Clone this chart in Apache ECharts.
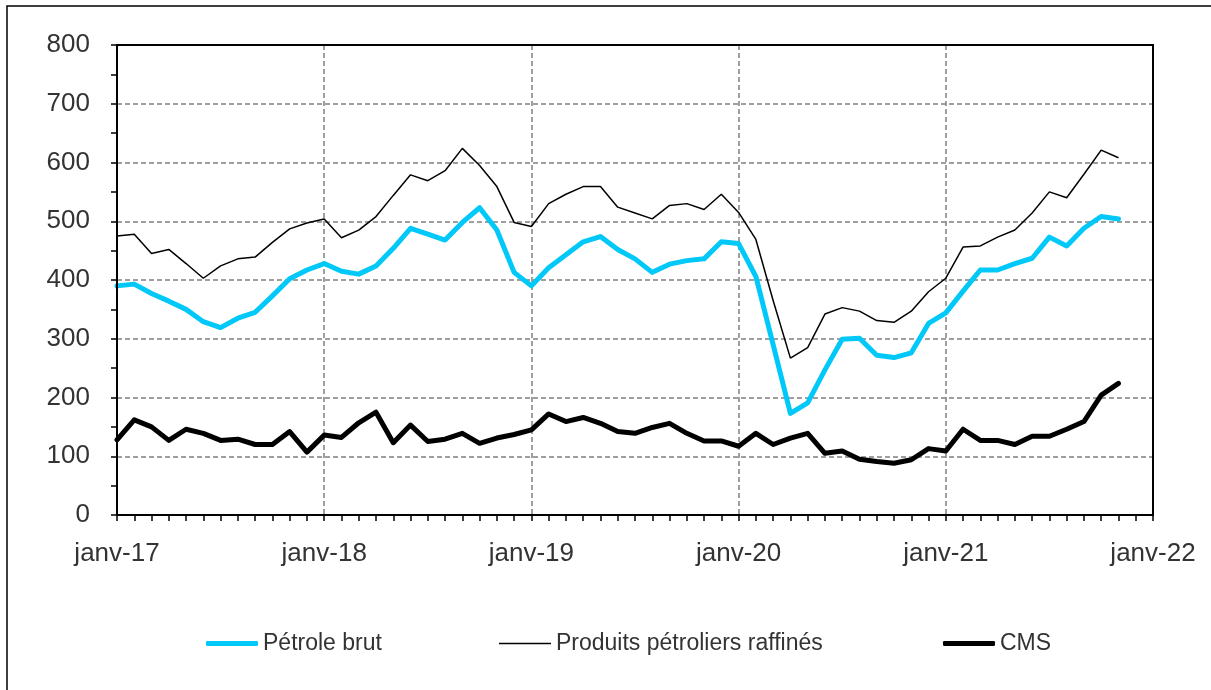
<!DOCTYPE html>
<html>
<head>
<meta charset="utf-8">
<script src="https://cdn.jsdelivr.net/npm/echarts@6/dist/echarts.min.js"></script>
<style>
html,body{margin:0;padding:0;background:#fff;}
#chart{width:1211px;height:690px;}
</style>
</head>
<body>
<div id="chart"></div>
<script>
const monthNames = ['janv','févr','mars','avr','mai','juin','juil','août','sept','oct','nov','déc'];
const yearSuffixes = ['17','18','19','20','21','22'];

const petroleBrut = [
  390,393,377,364,350,329,319,335,345,373,402,417,
  428,415,410,424,454,488,478,468,498,523,485,413,
  390,421,443,465,474,452,436,413,427,433,436,465,
  462,406,290,173,191,247,299,301,272,268,276,326,
  344,381,417,417,428,437,473,458,488,508,504
];
const produitsRaffines = [
  475,478,445,452,428,403,424,436,439,464,487,497,
  504,472,485,508,544,579,569,586,624,595,559,498,
  491,530,546,559,559,524,514,504,527,530,520,546,
  515,469,365,267,285,342,353,347,331,328,347,380,
  403,456,458,473,485,514,550,540,580,621,608
];
const cms = [
  128,162,150,127,146,139,127,129,120,120,142,107,
  136,132,157,175,123,153,125,129,139,122,131,137,
  145,172,159,166,156,142,139,149,156,139,126,126,
  117,139,120,131,139,105,109,95,91,88,94,113,
  109,146,127,127,120,134,134,146,159,204,224
];
const seriesNames = ['Pétrole brut','Produits pétroliers raffinés','CMS'];

const categories = [];
yearSuffixes.forEach((y, yi) => {
  monthNames.forEach((m, mi) => {
    if (yi === yearSuffixes.length - 1 && mi > 0) return;
    categories.push(m + '-' + y);
  });
});

const FONT = "'Liberation Sans', Arial, sans-serif";
const TXT = '#333';
const BLUE = '#00C8F8';
const chart = echarts.init(document.getElementById('chart'), null, {renderer: 'canvas'});

const legendBase = {
  top: 632,
  padding: 0,
  itemWidth: 52,
  textStyle: {fontFamily: FONT, fontSize: 23, color: TXT},
  selectedMode: false
};

chart.setOption({
  animation: false,
  backgroundColor: '#fff',
  graphic: [{
    type: 'rect',
    shape: {x: 7, y: 6, width: 1260, height: 760},
    style: {fill: 'none', stroke: '#000', lineWidth: 1.5},
    silent: true
  }],
  legend: [
    Object.assign({}, legendBase, {left: 206, icon: 'roundRect', itemHeight: 5,
      itemStyle: {color: BLUE}, data: [seriesNames[0]]}),
    Object.assign({}, legendBase, {left: 499, icon: 'rect', itemHeight: 1.5,
      itemStyle: {color: '#000'}, data: [seriesNames[1]]}),
    Object.assign({}, legendBase, {left: 943, icon: 'roundRect', itemHeight: 5,
      itemStyle: {color: '#000'}, data: [seriesNames[2]]})
  ],
  grid: {
    left: 117, right: 58, top: 45, bottom: 175, z: 5,
    show: true, borderColor: '#000', borderWidth: 2, backgroundColor: 'transparent'
  },
  xAxis: {
    type: 'category',
    data: categories,
    boundaryGap: false,
    axisLine: {show: true, lineStyle: {color: '#000', width: 2}},
    axisTick: {show: true, interval: 0, length: 6, lineStyle: {color: '#000', width: 1.5}},
    axisLabel: {
      interval: (i) => i % 12 === 0,
      margin: 26,
      fontFamily: FONT, fontSize: 26, color: TXT
    },
    splitLine: {
      show: true,
      interval: (i) => i % 12 === 0 && i !== 0 && i !== categories.length - 1,
      lineStyle: {color: '#808080', width: 1.5, type: [5, 3]}
    }
  },
  yAxis: {
    type: 'value',
    min: 0, max: 800, interval: 100,
    axisLine: {show: true, lineStyle: {color: '#000', width: 2}},
    axisTick: {show: true, length: 6, lineStyle: {color: '#000', width: 1.5}},
    minorTick: {show: true, splitNumber: 2, length: 6, lineStyle: {color: '#000', width: 1.5}},
    axisLabel: {margin: 27, fontFamily: FONT, fontSize: 26, color: TXT},
    splitLine: {show: true, lineStyle: {color: '#808080', width: 1.5, type: [5, 3]}}
  },
  series: [
    {
      name: seriesNames[0], type: 'line', data: petroleBrut,
      symbol: 'none', z: 3,
      lineStyle: {color: BLUE, width: 5, cap: 'round', join: 'round'},
      itemStyle: {color: BLUE}
    },
    {
      name: seriesNames[1], type: 'line', data: produitsRaffines,
      symbol: 'none', z: 2,
      lineStyle: {color: '#000', width: 1.5},
      itemStyle: {color: '#000'}
    },
    {
      name: seriesNames[2], type: 'line', data: cms,
      symbol: 'none', z: 4,
      lineStyle: {color: '#000', width: 5, cap: 'round', join: 'round'},
      itemStyle: {color: '#000'}
    }
  ]
});
</script>
</body>
</html>
